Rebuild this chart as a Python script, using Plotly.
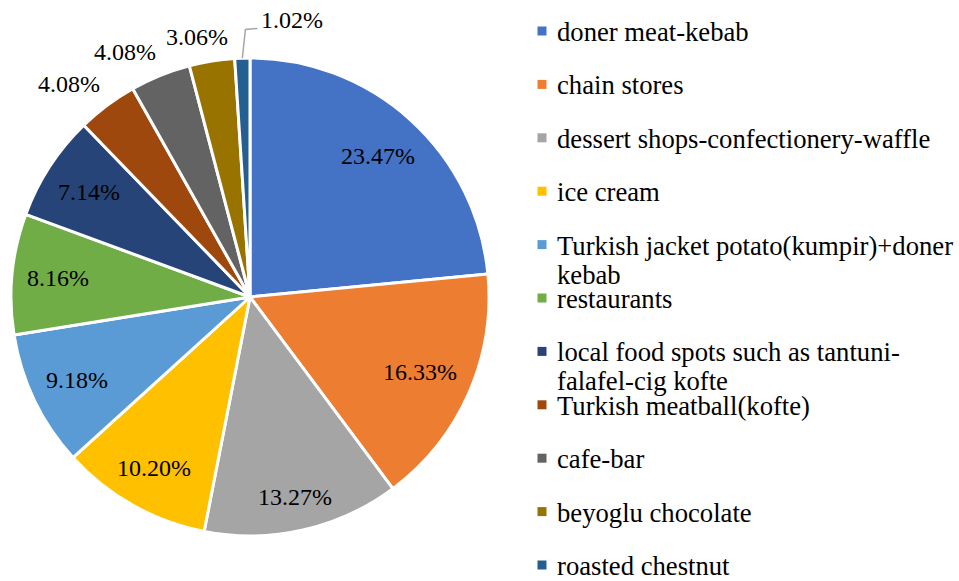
import math
import plotly.graph_objects as go

# Share of respondents by type of street-food outlet (percent)
categories = [
    "doner meat-kebab",
    "chain stores",
    "dessert shops-confectionery-waffle",
    "ice cream",
    "Turkish jacket potato(kumpir)+doner kebab",
    "restaurants",
    "local food spots such as tantuni-falafel-cig kofte",
    "Turkish meatball(kofte)",
    "cafe-bar",
    "beyoglu chocolate",
    "roasted chestnut",
]
shares = [23.47, 16.33, 13.27, 10.20, 9.18, 8.16, 7.14, 4.08, 4.08, 3.06, 1.02]
# legend text broken where the long names wrap
legend_lines = [
    ["doner meat-kebab"],
    ["chain stores"],
    ["dessert shops-confectionery-waffle"],
    ["ice cream"],
    ["Turkish jacket potato(kumpir)+doner", "kebab"],
    ["restaurants"],
    ["local food spots such as tantuni-", "falafel-cig kofte"],
    ["Turkish meatball(kofte)"],
    ["cafe-bar"],
    ["beyoglu chocolate"],
    ["roasted chestnut"],
]
colors = ["#4472C4", "#ED7D31", "#A5A5A5", "#FFC000", "#5B9BD5", "#70AD47",
          "#264478", "#9E480E", "#636363", "#997300", "#255E91"]
# where each percentage label sits
label_modes = ["inside"] * 7 + ["outside"] * 3 + ["leader"]

W, H = 959, 581
FONT = "'Liberation Serif', 'Times New Roman', Times, 'DejaVu Serif', serif"
LABEL_SIZE = 24
LEGEND_SIZE = 26.67

# pie placement in pixels
cx, cy, R = 250, 297, 239


def px_to_paper(x, y):
    return x / W, 1 - y / H


def text_width(s, size):
    # Times-style advance widths
    adv = {".": 0.25, "%": 0.833}
    return sum(adv.get(ch, 0.5) for ch in s) * size


fig = go.Figure(go.Pie(
    labels=categories,
    values=shares,
    sort=False,
    direction="clockwise",
    rotation=0,
    marker=dict(colors=colors, line=dict(color="white", width=3)),
    textinfo="none",
    showlegend=False,
    hoverinfo="label+value",
    domain=dict(x=[(cx - R) / W, (cx + R) / W], y=[1 - (cy + R) / H, 1 - (cy - R) / H]),
))

shapes = []
annotations = []

# percentage labels, positioned from each slice's mid-angle
total = sum(shares)
cum = 0.0
for val, mode in zip(shares, label_modes):
    mid = (cum + val / 2) / total * 2 * math.pi
    cum += val
    ux, uy = math.sin(mid), -math.cos(mid)
    txt = f"{val:.2f}%"
    w, h = text_width(txt, LABEL_SIZE), LABEL_SIZE
    if mode == "inside":
        ext = abs(ux) * w / 2 + abs(uy) * h / 2
        r = 0.94 * R - ext
        lx, ly = cx + r * ux, cy + r * uy
    elif mode == "outside":
        px, py = cx + 1.05 * R * ux, cy + 1.05 * R * uy
        kx = max(-1.0, min(1.0, 2.7 * ux))
        ky = max(-1.0, min(1.0, 2.7 * uy))
        lx, ly = px + kx * w / 2, py + ky * h / 2
    else:
        # short leader line up from the slice edge, then across to the label
        ex, ey = cx + 1.0 * R * ux, cy + 1.0 * R * uy
        bx, by = cx + 1.12 * R * ux + 4, cy + 1.12 * R * uy
        tx = bx + 12
        p = [px_to_paper(ex, ey), px_to_paper(bx, by), px_to_paper(tx, by - 1)]
        shapes.append(dict(type="path", xref="paper", yref="paper",
                           path=f"M {p[0][0]} {p[0][1]} L {p[1][0]} {p[1][1]} L {p[2][0]} {p[2][1]}",
                           line=dict(color="#A6A6A6", width=1.5)))
        lx, ly = tx + 4 + w / 2, by - 9
    ax, ay = px_to_paper(lx, ly)
    annotations.append(dict(text=txt, xref="paper", yref="paper", x=ax, y=ay,
                            xanchor="center", yanchor="middle", showarrow=False,
                            font=dict(family=FONT, size=LABEL_SIZE, color="#000000")))

# legend: square swatch + label lines
y0, step, line_gap, sq = 31, 53.4, 29, 9
for i, (lines, col) in enumerate(zip(legend_lines, colors)):
    yc = y0 + step * i
    sx0, sy0 = px_to_paper(542 - sq / 2, yc + sq / 2)
    sx1, sy1 = px_to_paper(542 + sq / 2, yc - sq / 2)
    shapes.append(dict(type="rect", xref="paper", yref="paper",
                       x0=sx0, x1=sx1, y0=sy0, y1=sy1,
                       fillcolor=col, line=dict(width=0)))
    for k, txt in enumerate(lines):
        ax, ay = px_to_paper(555, yc + 1 + line_gap * k)
        annotations.append(dict(text=txt, xref="paper", yref="paper", x=ax, y=ay,
                                xanchor="left", yanchor="middle", showarrow=False,
                                font=dict(family=FONT, size=LEGEND_SIZE, color="#000000")))

fig.update_layout(
    width=W, height=H,
    margin=dict(l=0, r=0, t=0, b=0),
    paper_bgcolor="white",
    plot_bgcolor="white",
    font=dict(family=FONT),
    shapes=shapes,
    annotations=annotations,
)

fig.write_html("out.html")
